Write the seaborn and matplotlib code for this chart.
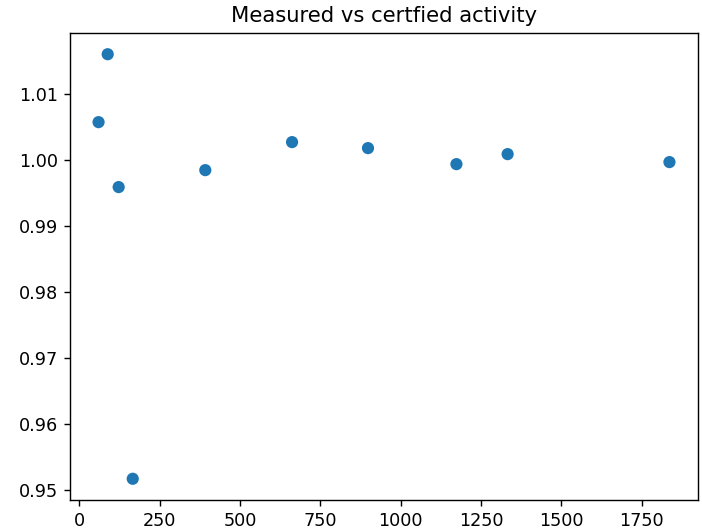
import matplotlib
matplotlib.use("Agg")
import matplotlib.pyplot as plt
import seaborn as sns
import pandas as pd

energy_keV = [59.5, 88.0, 122.1, 165.9, 391.7, 661.7, 898.0, 1173.2, 1332.5, 1836.1]
ratio = [1.00576, 1.01606, 0.99591, 0.95167, 0.99848, 1.00273, 1.00182, 0.99939, 1.00091, 0.99970]

df = pd.DataFrame({"energy": energy_keV, "ratio": ratio})

DPI = 126.7
fig = plt.figure(figsize=(702 / DPI, 529 / DPI), dpi=DPI)
ax = fig.add_axes([70/702, 1 - 500/529, 628/702, 467/529])
sns.scatterplot(data=df, x="energy", y="ratio", ax=ax, s=48, color="#1f77b4",
                edgecolor="none", linewidth=0)
ax.set_xlabel("")
ax.set_ylabel("")
ax.set_title("Measured vs certfied activity")
fig.savefig("out.png", dpi=DPI)
